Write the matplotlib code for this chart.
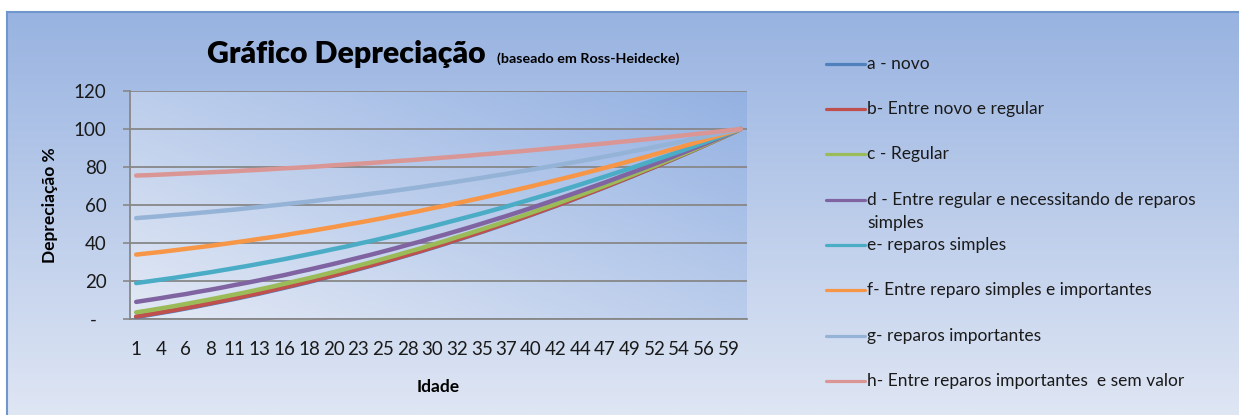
import numpy as np
import matplotlib
matplotlib.use("Agg")
import matplotlib.pyplot as plt
from matplotlib.lines import Line2D

plt.rcParams['font.family'] = ['Lato', 'DejaVu Sans']

# idade (anos) - 50 categorias
idade = [1.2, 2.4, 3.6, 4.8, 6.0, 7.2, 8.4, 9.6, 10.8, 12.0, 13.2, 14.4, 15.6, 16.8, 18.0,
         19.2, 20.4, 21.6, 22.8, 24.0, 25.2, 26.4, 27.6, 28.8, 30.0, 31.2, 32.4, 33.6, 34.8,
         36.0, 37.2, 38.4, 39.6, 40.8, 42.0, 43.2, 44.4, 45.6, 46.8, 48.0, 49.2, 50.4, 51.6,
         52.8, 54.0, 55.2, 56.4, 57.6, 58.8, 60.0]

a_novo = [1.0, 2.1, 3.2, 4.3, 5.5, 6.7, 8.0, 9.3, 10.6, 12.0, 13.4, 14.9, 16.4, 17.9, 19.5,
          21.1, 22.8, 24.5, 26.2, 28.0, 29.8, 31.7, 33.6, 35.5, 37.5, 39.5, 41.6, 43.7, 45.8,
          48.0, 50.2, 52.5, 54.8, 57.1, 59.5, 61.9, 64.4, 66.9, 69.4, 72.0, 74.6, 77.3, 80.0,
          82.7, 85.5, 88.3, 91.2, 94.1, 97.0, 100.0]
b_novo_regular = [1.3, 2.4, 3.5, 4.6, 5.8, 7.0, 8.3, 9.6, 10.9, 12.3, 13.7, 15.2, 16.7, 18.2,
                  19.8, 21.4, 23.0, 24.7, 26.5, 28.2, 30.1, 31.9, 33.8, 35.7, 37.7, 39.7, 41.8,
                  43.9, 46.0, 48.2, 50.4, 52.6, 54.9, 57.3, 59.6, 62.0, 64.5, 67.0, 69.5, 72.1,
                  74.7, 77.4, 80.0, 82.8, 85.6, 88.4, 91.2, 94.1, 97.0, 100.0]
c_regular = [3.5, 4.5, 5.6, 6.7, 7.9, 9.1, 10.3, 11.6, 12.9, 14.2, 15.6, 17.0, 18.5, 20.0, 21.5,
             23.1, 24.7, 26.4, 28.1, 29.8, 31.6, 33.4, 35.3, 37.1, 39.1, 41.0, 43.1, 45.1, 47.2,
             49.3, 51.5, 53.7, 55.9, 58.2, 60.5, 62.9, 65.3, 67.7, 70.2, 72.7, 75.3, 77.9, 80.5,
             83.2, 85.9, 88.6, 91.4, 94.2, 97.1, 100.0]
d_regular_simples = [9.0, 10.0, 11.0, 12.1, 13.1, 14.3, 15.4, 16.6, 17.9, 19.1, 20.4, 21.8, 23.1,
                     24.6, 26.0, 27.5, 29.0, 30.6, 32.2, 33.8, 35.5, 37.2, 39.0, 40.7, 42.6, 44.4,
                     46.3, 48.2, 50.2, 52.2, 54.2, 56.3, 58.4, 60.6, 62.8, 65.0, 67.3, 69.6, 71.9,
                     74.3, 76.7, 79.1, 81.6, 84.1, 86.7, 89.3, 91.9, 94.6, 97.3, 100.0]
e_simples = [18.9, 19.8, 20.7, 21.6, 22.6, 23.6, 24.6, 25.7, 26.8, 27.9, 29.1, 30.3, 31.5, 32.8,
             34.1, 35.4, 36.8, 38.1, 39.6, 41.0, 42.5, 44.0, 45.6, 47.2, 48.8, 50.5, 52.2, 53.9,
             55.6, 57.4, 59.2, 61.1, 63.0, 64.9, 66.8, 68.8, 70.8, 72.9, 75.0, 77.1, 79.2, 81.4,
             83.6, 85.8, 88.1, 90.4, 92.8, 95.2, 97.6, 100.0]
f_simples_importantes = [33.9, 34.6, 35.3, 36.1, 36.9, 37.7, 38.5, 39.4, 40.3, 41.2, 42.2, 43.1,
                         44.1, 45.2, 46.2, 47.3, 48.4, 49.6, 50.7, 51.9, 53.1, 54.4, 55.6, 56.9,
                         58.3, 59.6, 61.0, 62.4, 63.8, 65.3, 66.8, 68.3, 69.8, 71.4, 73.0, 74.6,
                         76.2, 77.9, 79.6, 81.3, 83.1, 84.8, 86.6, 88.5, 90.3, 92.2, 94.1, 96.1,
                         98.0, 100.0]
g_importantes = [53.1, 53.6, 54.1, 54.7, 55.2, 55.8, 56.4, 57.0, 57.6, 58.3, 59.0, 59.7, 60.4,
                 61.1, 61.8, 62.6, 63.4, 64.2, 65.0, 65.9, 66.7, 67.6, 68.5, 69.4, 70.4, 71.3,
                 72.3, 73.3, 74.3, 75.4, 76.4, 77.5, 78.6, 79.7, 80.8, 82.0, 83.1, 84.3, 85.5,
                 86.7, 88.0, 89.2, 90.5, 91.8, 93.1, 94.5, 95.8, 97.2, 98.6, 100.0]
h_sem_valor = [75.5, 75.7, 76.0, 76.3, 76.6, 76.9, 77.2, 77.5, 77.8, 78.2, 78.5, 78.9, 79.3, 79.6,
               80.0, 80.4, 80.9, 81.3, 81.7, 82.1, 82.6, 83.1, 83.5, 84.0, 84.5, 85.0, 85.5,
               86.0, 86.6, 87.1, 87.7, 88.2, 88.8, 89.4, 90.0, 90.6, 91.2, 91.8, 92.4, 93.1,
               93.7, 94.4, 95.0, 95.7, 96.4, 97.1, 97.8, 98.5, 99.3, 100.0]

labels = ["a - novo",
          "b- Entre novo e regular",
          "c - Regular",
          "d - Entre regular e necessitando de reparos\nsimples",
          "e- reparos simples",
          "f- Entre reparo simples e importantes",
          "g- reparos importantes",
          "h- Entre reparos importantes  e sem valor"]
series = [a_novo, b_novo_regular, c_regular, d_regular_simples, e_simples,
          f_simples_importantes, g_importantes, h_sem_valor]
colors = ['#4F81BD', '#C0504D', '#9BBB59', '#8064A2', '#4BACC6', '#F79646', '#95B3D7', '#D99694']

W, H = 1239, 415
def fx(x):
    return x / W
def fy(y):
    return 1 - y / H

fig = plt.figure(figsize=(W / 100, H / 100), dpi=100)
fig.patch.set_facecolor('white')

# chart area background (vertical gradient)
bg = fig.add_axes([fx(7), 0, 1 - fx(7), fy(12)])
top = np.array([0x98, 0xb3, 0xe1]) / 255
bot = np.array([0xdf, 0xe6, 0xf4]) / 255
t = np.linspace(0, 1, 256)[:, None]
grad = top[None, :] * (1 - t) + bot[None, :] * t
bg.imshow(grad[:, None, :], aspect='auto', extent=[0, 1, 0, 1])
bg.set_xticks([])
bg.set_yticks([])
for s in ['right', 'bottom']:
    bg.spines[s].set_visible(False)
for s in ['left', 'top']:
    bg.spines[s].set_color('#6f97cb')
    bg.spines[s].set_linewidth(1.5)

# plot area
ax = fig.add_axes([fx(130), fy(319), fx(747) - fx(130), fy(91) - fy(319)])
ax.patch.set_alpha(0)
n = 200
xx, yy = np.meshgrid(np.linspace(0, 1, n), np.linspace(0, 1, n))
tt = (xx + (1 - yy)) / 2  # 0 at top-left, 1 at bottom-right
c0 = np.array([0xe3, 0xe9, 0xf5]) / 255
c1 = np.array([0x93, 0xb1, 0xe2]) / 255
pgrad = c0[None, None, :] * (1 - tt[..., None]) + c1[None, None, :] * tt[..., None]
ax.imshow(pgrad, aspect='auto', extent=[0, 1, 0, 1], transform=ax.transAxes, zorder=0)

x = np.arange(len(idade))
for vals, col, lab in zip(series, colors, labels):
    ax.plot(x, vals, color=col, lw=3.2, solid_capstyle='round', zorder=3)

ax.set_xlim(-0.5, len(idade) - 0.5)
ax.set_ylim(0, 120)
ax.set_yticks(range(0, 121, 20))
ax.set_yticklabels(['-  '] + [str(v) for v in range(20, 121, 20)])
ax.set_xticks(x[::2])
ax.set_xticklabels([f"{v:.0f}" for v in idade[::2]])
ax.tick_params(axis='x', length=0, pad=16, labelsize=13.5, colors='#1a1a1a')
ax.tick_params(axis='y', length=5, width=1.2, pad=12, labelsize=13.5,
               colors='#878787', labelcolor='#1a1a1a')
ax.grid(axis='y', color='#878787', lw=1.3, zorder=1)
ax.set_axisbelow(True)
for s in ['top', 'right']:
    ax.spines[s].set_visible(False)
for s in ['left', 'bottom']:
    ax.spines[s].set_color('#878787')
    ax.spines[s].set_linewidth(1.3)

# titles
fig.text(fx(207), fy(63), "Gráfico Depreciação", fontsize=21.8, fontweight='heavy',
         ha='left', va='baseline', color='black')
fig.text(fx(497), fy(63), "(baseado em Ross-Heidecke)", fontsize=10.3, fontweight='bold',
         ha='left', va='baseline', color='black')
fig.text(fx(50), fy(205), "Depreciação %", fontsize=12.5, fontweight='bold', rotation=90,
         ha='center', va='center', color='black')
fig.text(fx(438), fy(387), "Idade", fontsize=12.5, fontweight='bold',
         ha='center', va='center', color='black')

# legend
ys = [64, 109, 154, 200, 245, 290, 336, 381]
for yv, col, lab in zip(ys, colors, labels):
    fig.add_artist(Line2D([fx(826), fx(865)], [fy(yv), fy(yv)], color=col, lw=2.3,
                          solid_capstyle='round', transform=fig.transFigure))
    for k, part in enumerate(lab.split("\n")):
        fig.text(fx(867), fy(yv + 23 * k), part, fontsize=12.5, ha='left', va='center',
                 color='#1a1a1a')

fig.savefig("out.png", dpi=100)
